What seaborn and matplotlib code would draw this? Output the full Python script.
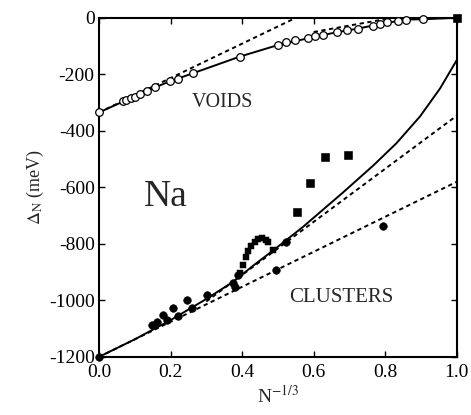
import matplotlib
matplotlib.use("Agg")
import matplotlib.pyplot as plt
import seaborn as sns
import pandas as pd

# ---- data ----
void_x = [0.0, 0.068, 0.077, 0.089, 0.101, 0.115, 0.133, 0.156, 0.198, 0.222, 0.263,
          0.394, 0.501, 0.524, 0.547, 0.585, 0.603, 0.627, 0.664, 0.692, 0.724,
          0.766, 0.785, 0.804, 0.836, 0.859, 0.905]
void_y = [-335, -296, -290, -284, -279, -270, -258, -245, -225, -217, -196,
          -137, -96, -87, -80, -72, -66, -60, -51, -42, -38,
          -28, -22, -16, -12, -6, -5]
void_end_x = [1.0]
void_end_y = [0]

void_fit_x = [0.0, 0.068, 0.133, 0.198, 0.263, 0.394, 0.501, 0.585, 0.664, 0.724, 0.785, 0.859, 0.905, 1.0]
void_fit_y = [-335, -296, -258, -225, -196, -137, -96, -72, -51, -38, -22, -6, -5, 0]
void_dash1_x = [0.0, 0.55]
void_dash1_y = [-335, 0]
void_dash2_x = [0.60, 0.82]
void_dash2_y = [-50, 0]

clus_circ_x = [0.0, 0.147, 0.161, 0.180, 0.191, 0.208, 0.222, 0.245, 0.259, 0.301,
               0.375, 0.381, 0.389, 0.496, 0.524, 0.794]
clus_circ_y = [-1200, -1087, -1075, -1051, -1071, -1028, -1057, -998, -1028, -981,
               -939, -953, -910, -892, -792, -736]
clus_bump_x = [0.394, 0.403, 0.410, 0.417, 0.426, 0.436, 0.445, 0.456, 0.466, 0.471, 0.487]
clus_bump_y = [-904, -874, -845, -824, -807, -792, -783, -780, -786, -795, -821]
clus_sq_x = [0.552, 0.589, 0.631, 0.696]
clus_sq_y = [-686, -583, -493, -485]

clus_fit_x = [0.0, 0.1, 0.2, 0.3, 0.374, 0.43, 0.492, 0.57, 0.682, 0.767, 0.831, 0.897, 0.953, 1.0]
clus_fit_y = [-1200, -1138, -1070, -995, -935, -878, -818, -740, -618, -522, -444, -349, -250, -149]
clus_dash_lo_x = [0.0, 1.0]
clus_dash_lo_y = [-1200, -580]
clus_dash_hi_x = [0.30, 1.0]
clus_dash_hi_y = [-1004, -346]

x_ticks = [0.0, 0.2, 0.4, 0.6, 0.8, 1.0]
y_ticks = [0, -200, -400, -600, -800, -1000, -1200]

sns.set_theme(style="ticks")
plt.rcParams['font.family'] = ['Liberation Serif', 'DejaVu Serif']
plt.rcParams['mathtext.fontset'] = 'stix'

fig = plt.figure(figsize=(4.71, 4.15), dpi=100)
ax = fig.add_axes([0.210, 0.140, 0.760, 0.817])

dash = (0, (2.2, 1.8))

def line(x, y, ls='-'):
    sns.lineplot(x=x, y=y, ax=ax, color='black', lw=1.4, sort=False,
                 estimator=None, linestyle=ls, zorder=2)

line(void_fit_x, void_fit_y)
line(void_dash1_x, void_dash1_y, dash)
line(void_dash2_x, void_dash2_y, dash)
line(clus_fit_x, clus_fit_y)
line(clus_dash_lo_x, clus_dash_lo_y, dash)
line(clus_dash_hi_x, clus_dash_hi_y, dash)

sns.scatterplot(x=void_x, y=void_y, ax=ax, marker='o', s=30, facecolor='white',
                edgecolor='black', linewidth=0.9, zorder=3, clip_on=False)
sns.scatterplot(x=void_end_x, y=void_end_y, ax=ax, marker='s', s=30, color='black',
                edgecolor='black', zorder=3, clip_on=False)
sns.scatterplot(x=clus_circ_x, y=clus_circ_y, ax=ax, marker='o', s=30, color='black',
                edgecolor='black', zorder=3, clip_on=False)
sns.scatterplot(x=clus_bump_x, y=clus_bump_y, ax=ax, marker='s', s=18, color='black',
                edgecolor='black', zorder=3, clip_on=False)
sns.scatterplot(x=clus_sq_x, y=clus_sq_y, ax=ax, marker='s', s=28, color='black',
                edgecolor='black', zorder=3, clip_on=False)

ax.set_xlim(0, 1.0)
ax.set_ylim(-1200, 0)
ax.set_xticks(x_ticks)
ax.set_xticklabels([f"{t:.1f}" for t in x_ticks])
ax.set_yticks(y_ticks)
ax.set_yticklabels([str(t) for t in y_ticks])
ax.tick_params(direction='in', top=True, right=True, length=4, width=1,
               labelsize=14, colors='black', pad=3)
ax.tick_params(axis='x', pad=5)
for s in ax.spines.values():
    s.set_linewidth(1.5)
    s.set_color('black')

ax.set_xlabel(r"N$^{-1/3}$", fontsize=14, labelpad=3)
ax.set_ylabel(r"$\Delta_{\rm N}$ (meV)", fontsize=13, labelpad=2)

ax.text(0.344, -301, "VOIDS", fontsize=14.5, ha='center', va='center')
ax.text(0.676, -988, "CLUSTERS", fontsize=15, ha='center', va='center')
ax.text(0.187, -634, "Na", fontsize=27, ha='center', va='center')

fig.savefig("out.png", dpi=100)
